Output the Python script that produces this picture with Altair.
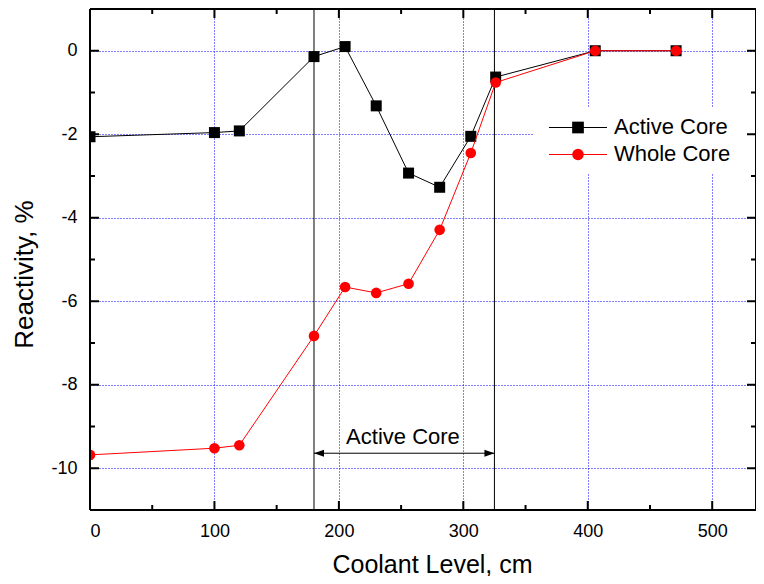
import altair as alt
import pandas as pd

# ---------------- data ----------------
coolant_level = [0, 100, 120, 180, 205, 230, 256, 281, 306, 326, 406, 471]
active_core = [-2.06, -1.96, -1.92, -0.14, 0.10, -1.32, -2.93, -3.27, -2.05, -0.63, 0.0, 0.0]
whole_core = [-9.68, -9.52, -9.45, -6.83, -5.66, -5.80, -5.58, -4.29, -2.45, -0.76, 0.0, 0.0]
series_names = ["Active Core", "Whole Core"]
series_values = [active_core, whole_core]
series_colors = ["#000000", "#ff0000"]
series_shapes = ["square", "circle"]

x_major = [0, 100, 200, 300, 400, 500]
x_minor = [50, 150, 250, 350, 450]
y_major = [-10, -8, -6, -4, -2, 0]
y_minor = [-9, -7, -5, -3, -1]

core_bounds = [180, 325]
arrow_level = [-9.64]
annot_text = ["Active Core"]
annot_x = [251.5]
annot_y = [-9.41]

# ---------------- layout ----------------
W, H = 666, 501
FONT = "Liberation Sans"
xs = alt.Scale(domain=[0, 535.2], nice=False, zero=False)
ys = alt.Scale(domain=[-11, 1], nice=False, zero=False)

x_axis = alt.Axis(
    values=x_major, grid=True, gridColor="#0000ff", gridDash=[1, 2], gridWidth=1,
    domain=False, ticks=False, tickSize=0,
    labelFont=FONT, labelFontSize=18, labelColor="black", labelPadding=12,
    title="Coolant Level, cm", titleFont=FONT, titleFontSize=25, titleFontWeight="normal",
    titleColor="black", titleX=342, titleY=62, titleBaseline="alphabetic", titleAlign="center",
)
y_axis = alt.Axis(
    values=y_major, grid=True, gridColor="#0000ff", gridDash=[1, 2], gridWidth=1,
    domain=False, ticks=False, tickSize=0,
    labelFont=FONT, labelFontSize=18, labelColor="black", labelPadding=13,
    labelExpr="toString(datum.value)",
    title="Reactivity, %", titleFont=FONT, titleFontSize=26, titleFontWeight="normal",
    titleColor="black", titleX=-58, titleY=265, titleBaseline="alphabetic", titleAlign="center",
    titleAngle=270,
)

X = alt.X("x:Q", scale=xs, axis=x_axis)
Y = alt.Y("y:Q", scale=ys, axis=y_axis)

layers = []

# core boundary lines
bounds_df = pd.DataFrame({"x": core_bounds})
layers.append(
    alt.Chart(bounds_df).mark_rule(color="black", strokeWidth=1).encode(
        x=X, y=alt.value(0), y2=alt.value(H)
    )
)

# double arrow
arrow_df = pd.DataFrame({"x": [core_bounds[0]], "x2": [core_bounds[1]], "y": arrow_level})
layers.append(
    alt.Chart(arrow_df).mark_rule(color="black", strokeWidth=1).encode(x=X, x2="x2:Q", y=Y)
)
left_head = pd.DataFrame({"x": [core_bounds[0]], "y": arrow_level})
right_head = pd.DataFrame({"x": [core_bounds[1]], "y": arrow_level})
layers.append(
    alt.Chart(left_head).mark_point(
        shape="M0,0L1,-0.35L1,0.35Z", filled=True, size=400, color="black", opacity=1
    ).encode(x=X, y=Y)
)
layers.append(
    alt.Chart(right_head).mark_point(
        shape="M0,0L-1,-0.35L-1,0.35Z", filled=True, size=400, color="black", opacity=1
    ).encode(x=X, y=Y)
)
annot_df = pd.DataFrame({"x": annot_x, "y": annot_y, "t": annot_text})
layers.append(
    alt.Chart(annot_df).mark_text(
        font=FONT, fontSize=22, color="black", align="center", baseline="alphabetic"
    ).encode(x=X, y=Y, text="t:N")
)

# series
for name, vals, col, shp in zip(series_names, series_values, series_colors, series_shapes):
    df = pd.DataFrame({"x": coolant_level, "y": vals})
    size = 121 if shp == "square" else 113
    layers.append(
        alt.Chart(df).mark_line(color=col, strokeWidth=1, clip=True).encode(x=X, y=Y)
    )
    layers.append(
        alt.Chart(df).mark_point(
            shape=shp, filled=True, size=size, color=col, opacity=1, clip=True
        ).encode(x=X, y=Y)
    )

# legend (manual)
one = pd.DataFrame({"k": [0]})
layers.append(
    alt.Chart(one).mark_rect(fill="white").encode(
        x=alt.value(443), x2=alt.value(658), y=alt.value(98), y2=alt.value(164)
    )
)
for i, (name, col, shp) in enumerate(zip(series_names, series_colors, series_shapes)):
    ly = 118.5 + i * 27
    layers.append(
        alt.Chart(one).mark_rule(color=col, strokeWidth=1).encode(
            x=alt.value(459), x2=alt.value(517), y=alt.value(ly)
        )
    )
    layers.append(
        alt.Chart(one).mark_point(
            shape=shp, filled=True, size=137 if shp == "square" else 133, color=col, opacity=1
        ).encode(x=alt.value(488), y=alt.value(ly))
    )
    layers.append(
        alt.Chart(pd.DataFrame({"t": [name]})).mark_text(
            font=FONT, fontSize=22, color="black", align="left", baseline="alphabetic"
        ).encode(x=alt.value(524), y=alt.value(ly + 6), text="t:N")
    )

# ticks (inward) on all four sides
MAJ, MIN = 9, 5
for vals, ln in ((x_major, MAJ), (x_minor, MIN)):
    d = pd.DataFrame({"x": vals})
    layers.append(alt.Chart(d).mark_rule(color="black", strokeWidth=2).encode(
        x=X, y=alt.value(H), y2=alt.value(H - ln)))
    layers.append(alt.Chart(d).mark_rule(color="black", strokeWidth=2).encode(
        x=X, y=alt.value(0), y2=alt.value(ln)))
for vals, ln in ((y_major, MAJ), (y_minor, MIN)):
    d = pd.DataFrame({"y": vals})
    layers.append(alt.Chart(d).mark_rule(color="black", strokeWidth=2).encode(
        y=Y, x=alt.value(0), x2=alt.value(ln)))
    layers.append(alt.Chart(d).mark_rule(color="black", strokeWidth=2).encode(
        y=Y, x=alt.value(W), x2=alt.value(W - ln)))

# frame
layers.append(alt.Chart(one).mark_rule(color="black", strokeWidth=2).encode(
    x=alt.value(0), x2=alt.value(W), y=alt.value(0)))
layers.append(alt.Chart(one).mark_rule(color="black", strokeWidth=2).encode(
    x=alt.value(0), x2=alt.value(W), y=alt.value(H)))
layers.append(alt.Chart(one).mark_rule(color="black", strokeWidth=2).encode(
    x=alt.value(0), y=alt.value(0), y2=alt.value(H)))
layers.append(alt.Chart(one).mark_rule(color="black", strokeWidth=2).encode(
    x=alt.value(W), y=alt.value(0), y2=alt.value(H)))

chart = alt.layer(*layers).properties(
    width=W, height=H,
    autosize=alt.AutoSizeParams(type="none"),
    padding={"left": 82, "top": 1, "right": 0, "bottom": 66},
    background="white",
).configure_view(stroke=None)

chart.save("out.html", embed_options={"renderer": "svg", "actions": False})
